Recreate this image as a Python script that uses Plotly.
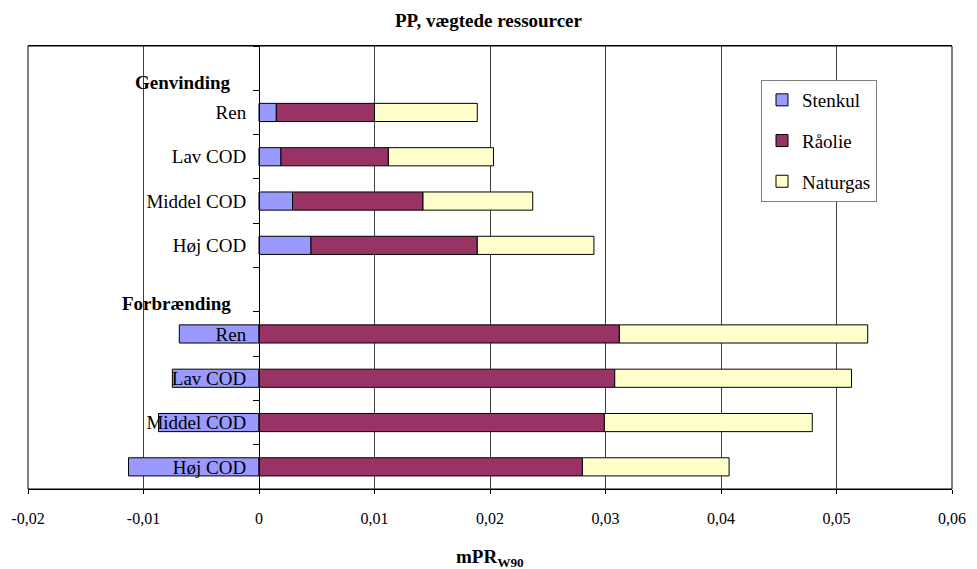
import plotly.graph_objects as go

# Categories (top to bottom); header rows carry no bars
cat_ids = ["G_hdr", "G_ren", "G_lav", "G_mid", "G_hoj",
           "F_hdr", "F_ren", "F_lav", "F_mid", "F_hoj"]
cat_labels = ["", "Ren", "Lav COD", "Middel COD", "Høj COD",
              "", "Ren", "Lav COD", "Middel COD", "Høj COD"]
headers = {"G_hdr": "Genvinding", "F_hdr": "Forbrænding"}

bar_ids = ["G_ren", "G_lav", "G_mid", "G_hoj", "F_ren", "F_lav", "F_mid", "F_hoj"]
stenkul = [0.0015, 0.0019, 0.0029, 0.0045, -0.0069, -0.0075, -0.0087, -0.0113]
raaolie = [0.0085, 0.0093, 0.0113, 0.0144, 0.0312, 0.0308, 0.0299, 0.0280]
naturgas = [0.0089, 0.0091, 0.0095, 0.0101, 0.0215, 0.0205, 0.0180, 0.0127]

x_ticks = [-0.02, -0.01, 0, 0.01, 0.02, 0.03, 0.04, 0.05, 0.06]
x_ticktext = ["-0,02", "-0,01", "0", "0,01", "0,02", "0,03", "0,04", "0,05", "0,06"]

series = [("Stenkul", stenkul, "#9999FF"),
          ("Råolie", raaolie, "#993366"),
          ("Naturgas", naturgas, "#FFFFCC")]

FONT = "Liberation Serif"

fig = go.Figure()
for name, vals, col in series:
    fig.add_trace(go.Bar(
        y=bar_ids, x=vals, name=name, orientation="h",
        marker=dict(color=col, line=dict(color="black", width=1)),
        legendgroup=name,
    ))

for cid, txt in headers.items():
    fig.add_annotation(x=0, y=cid, xref="x", yref="y", text=f"<b>{txt}</b>",
                       showarrow=False, xanchor="right", yanchor="middle",
                       xshift=-26, yshift=-14,
                       font=dict(family=FONT, size=19, color="black"))

# x-axis title
fig.add_annotation(x=0.5, y=-(558 - 489) / 443, xref="paper", yref="paper",
                   text="<b>mPR<sub>W90</sub></b>", showarrow=False,
                   xanchor="center", yanchor="middle",
                   font=dict(family=FONT, size=19, color="black"))

fig.update_layout(
    width=977, height=569,
    margin=dict(l=28, r=25, t=46, b=80),
    paper_bgcolor="white", plot_bgcolor="white",
    barmode="relative", bargap=0.59,
    font=dict(family=FONT, size=19, color="black"),
    title=dict(text="<b>PP, vægtede ressourcer</b>", x=0.5, xanchor="center",
               y=1 - 20 / 569, yanchor="middle", yref="container",
               font=dict(family=FONT, size=19, color="black")),
    xaxis=dict(range=[-0.02, 0.06], tickmode="array", tickvals=x_ticks,
               ticktext=x_ticktext, showgrid=True, gridcolor="#404040",
               gridwidth=1, zeroline=True, zerolinecolor="black",
               zerolinewidth=1, showline=True, linecolor="black",
               linewidth=1, mirror=True, ticks="outside", ticklen=4,
               tickcolor="black", tickfont=dict(family=FONT, size=16),
               ticklabelstandoff=11, automargin=False),
    yaxis=dict(type="category", categoryorder="array", categoryarray=cat_ids,
               tickmode="array", tickvals=cat_ids, ticktext=cat_labels,
               tickson="boundaries", range=[9.5, -0.5],
               anchor="free", position=0.25, showline=True,
               linecolor="black", linewidth=1, showgrid=False,
               ticks="outside", ticklen=6, tickcolor="black",
               ticklabelstandoff=9, automargin=False,
               tickfont=dict(family=FONT, size=19)),
    legend=dict(x=(761 - 28) / 924, y=(489 - 80) / 443, xanchor="left",
                yanchor="top", bordercolor="#808080", borderwidth=1,
                bgcolor="white", tracegroupgap=13, traceorder="grouped",
                font=dict(family=FONT, size=19)),
    shapes=[dict(type="rect", xref="paper", yref="paper", x0=0, x1=1,
                 y0=0, y1=1, line=dict(color="black", width=1),
                 layer="below")],
)

fig.write_html("out.html")
